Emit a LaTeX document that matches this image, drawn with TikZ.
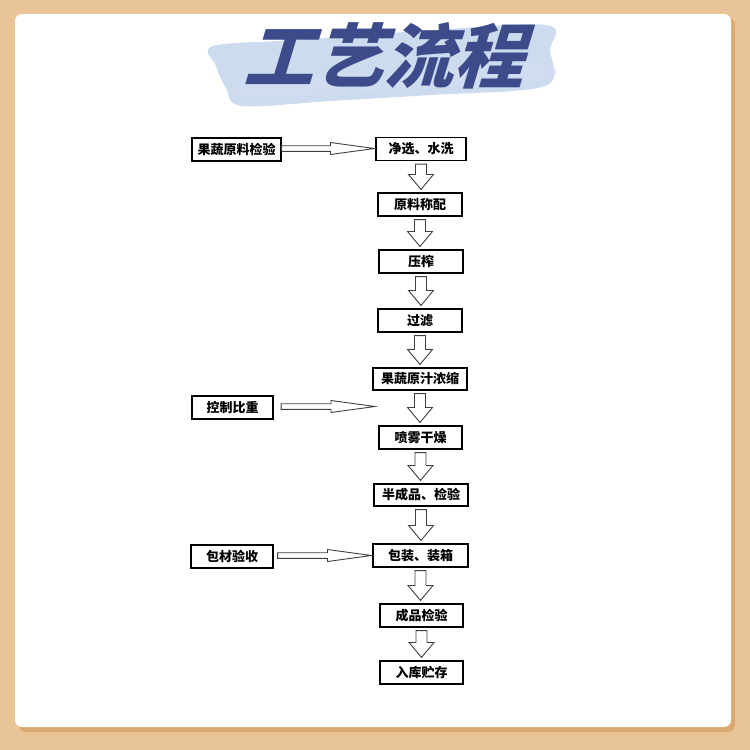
\documentclass[tikz,border=0pt]{standalone}
\usepackage{fontspec}
\usetikzlibrary{calc}
\newfontfamily\cjk{Noto Sans CJK SC}
\newfontfamily\titlefont[FakeSlant=0.3]{Noto Sans CJK SC}
\definecolor{bgtan}{HTML}{E8C497}
\definecolor{shadowtan}{HTML}{DBA86F}
\definecolor{titleblue}{HTML}{3E4B8B}
\definecolor{brushblue}{HTML}{CCDBEE}
\newcommand\vblk[2]{\path[blk] let \p1=(#1.south), \p2=(#2.north) in
  (\x1-5.5pt,\y1-3pt) -- (\x1+5.5pt,\y1-3pt) -- (\x1+5.5pt,\y2+18pt) -- (\x1+12.5pt,\y2+18pt)
  -- (\x1,\y2+3pt) -- (\x1-12.5pt,\y2+18pt) -- (\x1-5.5pt,\y2+18pt) -- cycle;}
\newcommand\hblk[3]{\path[blk] let \p1=(#1.east), \p2=(#2) in
  (\x1+#3,\y1+3.8pt) -- (\x2-45pt,\y1+3.8pt) -- (\x2-45pt,\y1+7pt) -- (\x2-1pt,\y1+1pt)
  -- (\x2-45pt,\y1-5pt) -- (\x2-45pt,\y1-1.8pt) -- (\x1+#3,\y1-1.8pt) -- cycle;}
\begin{document}
\begin{tikzpicture}[x=1pt,y=-1pt,
  box/.style={draw=black, line width=1.1pt, fill=white, minimum height=23pt, inner sep=0pt,
    font=\cjk\bfseries\fontsize{13}{15}\selectfont},
  blk/.style={draw=black!75, line width=0.9pt, fill=white}]
\useasboundingbox (0,0) rectangle (750,750);
\fill[bgtan] (0,0) rectangle (750,750);
\fill[shadowtan, rounded corners=7pt] (19,18) rectangle (735,732);
\fill[white, rounded corners=7pt] (15,14) rectangle (731,727);
% brush stroke
\fill[brushblue] plot[smooth cycle, tension=0.55] coordinates {
  (213,46) (300,40) (420,31) (546,25) (550,50) (545,86) (430,95) (330,101) (242,106) (226,88) (216,66)};
\fill[brushblue!80!blue!40!white, opacity=0.35] plot[smooth cycle, tension=0.6] coordinates {
  (250,82) (400,72) (540,64) (540,80) (400,90) (252,98)};
\node[font=\titlefont\bfseries\fontsize{70}{70}\selectfont, text=titleblue, inner sep=0pt] (title) at (383,56) {工艺流程};
% boxes
\node[box, minimum width=89pt] (b1) at (236.5,149.5) {果蔬原料检验};
\node[box, minimum width=90pt] (b2) at (421,149) {净选、水洗};
\node[box, minimum width=84pt] (b3) at (420,204.5) {原料称配};
\node[box, minimum width=84pt] (b4) at (421,261.5) {压榨};
\node[box, minimum width=84pt] (b5) at (420,320.5) {过滤};
\node[box, minimum width=94pt, minimum height=22pt] (b6) at (420,379) {果蔬原汁浓缩};
\node[box, minimum width=81pt] (b7) at (232.5,407.5) {控制比重};
\node[box, minimum width=83pt] (b8) at (420.5,437.5) {喷雾干燥};
\node[box, minimum width=94pt, minimum height=22pt] (b9) at (421,495) {半成品、检验};
\node[box, minimum width=82pt] (b10) at (232,556.5) {包材验收};
\node[box, minimum width=95pt] (b11) at (420.5,555.5) {包装、装箱};
\node[box, minimum width=83pt] (b12) at (421.5,615.5) {成品检验};
\node[box, minimum width=83pt] (b13) at (421.5,672.5) {入库贮存};
\coordinate (c7) at (376,406);
% vertical block arrows
\vblk{b2}{b3}
\vblk{b3}{b4}
\vblk{b4}{b5}
\vblk{b5}{b6}
\vblk{b6}{b8}
\vblk{b8}{b9}
\vblk{b9}{b11}
\vblk{b11}{b12}
\vblk{b12}{b13}
% horizontal block arrows
\hblk{b1}{b2.west}{0pt}
\hblk{b7}{c7}{7.5pt}
\hblk{b10}{b11.west}{4pt}
\end{tikzpicture}
\end{document}
